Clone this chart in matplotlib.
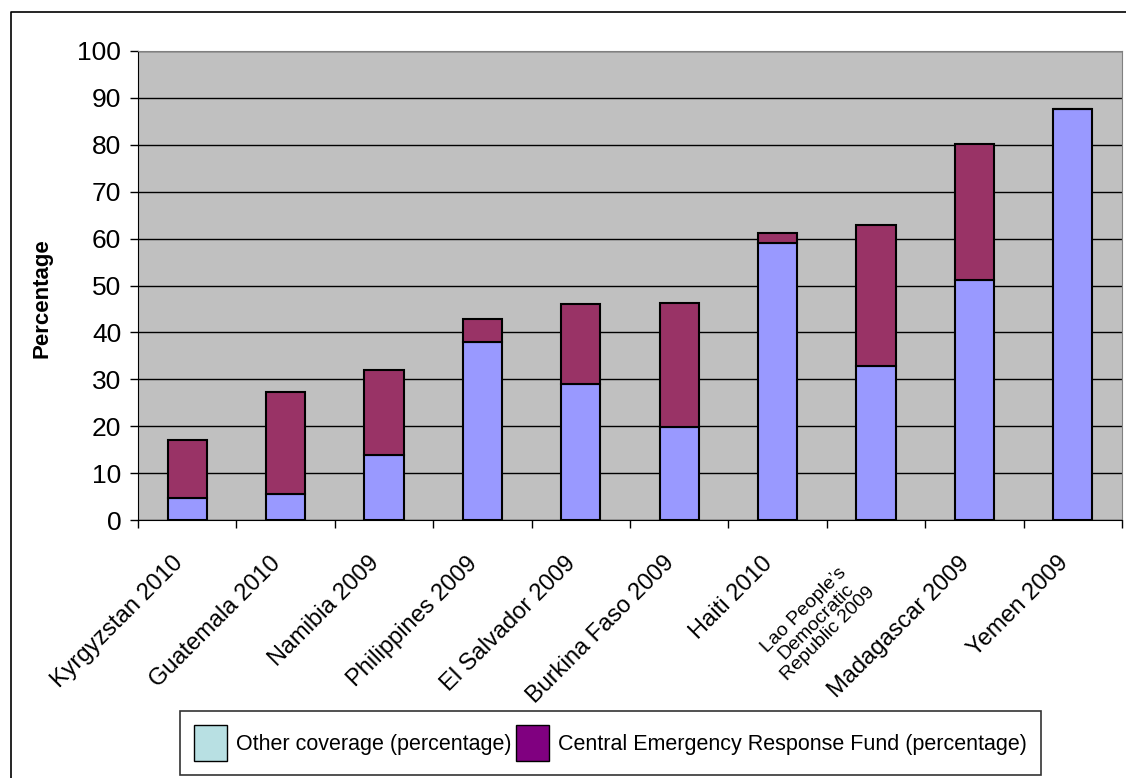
import matplotlib
matplotlib.use("Agg")
import matplotlib.pyplot as plt
from matplotlib.lines import Line2D
from matplotlib.patches import Patch
from matplotlib.transforms import ScaledTranslation
import numpy as np

plt.rcParams['font.family'] = ['Liberation Sans', 'DejaVu Sans']

countries = ["Kyrgyzstan 2010", "Guatemala 2010", "Namibia 2009", "Philippines 2009",
             "El Salvador 2009", "Burkina Faso 2009", "Haiti 2010",
             "Lao People\u2019s\nDemocratic\nRepublic 2009", "Madagascar 2009", "Yemen 2009"]
other = [4.7, 5.5, 13.9, 38.0, 28.9, 19.9, 59.1, 32.8, 51.1, 87.6]
cerf = [12.3, 21.8, 18.1, 4.8, 17.1, 26.4, 2.2, 30.2, 29.0, 0.0]

W, H = 1126, 778
fig = plt.figure(figsize=(W / 100, H / 100), dpi=100)
ax = fig.add_axes([138 / W, 1 - 520 / H, (1122 - 138) / W, (520 - 51) / H])
ax.set_facecolor("#C0C0C0")

x = np.arange(len(countries))
ax.bar(x, other, width=0.4, color="#9999FF", edgecolor="black", linewidth=1.5, zorder=3)
ax.bar(x, cerf, width=0.4, bottom=other, color="#993366", edgecolor="black", linewidth=1.5, zorder=3)

ax.set_xlim(-0.5, len(countries) - 0.5)
ax.set_ylim(0, 100)
ax.set_yticks(range(0, 101, 10))
ax.yaxis.grid(True, color="black", linewidth=1, zorder=1)
ax.tick_params(axis="y", labelsize=19, length=6, width=1, pad=6)

# category ticks at the boundaries, labels drawn as rotated texts
ax.set_xticks(np.arange(-0.5, len(countries), 1))
ax.set_xticklabels([])
ax.tick_params(axis="x", length=6, width=1)
trans = ax.get_xaxis_transform()
for i, name in enumerate(countries):
    if i == 7:
        off = ScaledTranslation(-16 / 100, -58 / 100, fig.dpi_scale_trans)
        ax.text(x[i], 0, name, transform=trans + off, rotation=45, rotation_mode="anchor",
                ha="right", va="center", multialignment="center", fontsize=14, linespacing=1.0)
    else:
        off = ScaledTranslation(-8 / 100, -40 / 100, fig.dpi_scale_trans)
        ax.text(x[i], 0, name, transform=trans + off, rotation=45, rotation_mode="anchor",
                ha="right", va="center", fontsize=17)

ax.spines["top"].set_color("#808080")
ax.spines["right"].set_color("#808080")
ax.spines["left"].set_color("black")
ax.spines["bottom"].set_color("black")

ax.set_ylabel("Percentage", fontsize=16, fontweight="bold", va="center")
ax.yaxis.set_label_coords((42 - 138) / (1122 - 138), (520 - 298) / (520 - 51))

fig.add_artist(Line2D([11 / W, 11 / W, 1.0], [0.0, 1 - 12 / H, 1 - 12 / H], color="black", linewidth=1.2))

handles = [Patch(facecolor="#B8E0E3", edgecolor="black", label="Other coverage (percentage)"),
           Patch(facecolor="#800080", edgecolor="black", label="Central Emergency Response Fund (percentage)")]
leg = fig.legend(handles=handles, loc="upper left", bbox_to_anchor=(180 / W, 1 - 711 / H),
                 ncol=2, fontsize=15.5, frameon=True, fancybox=False, edgecolor="black",
                 handlelength=1.55, handleheight=2.2, handletextpad=0.4, columnspacing=0.2,
                 borderaxespad=0, borderpad=0.65)
leg.get_frame().set_linewidth(1.2)

fig.savefig("out.png", dpi=100)
